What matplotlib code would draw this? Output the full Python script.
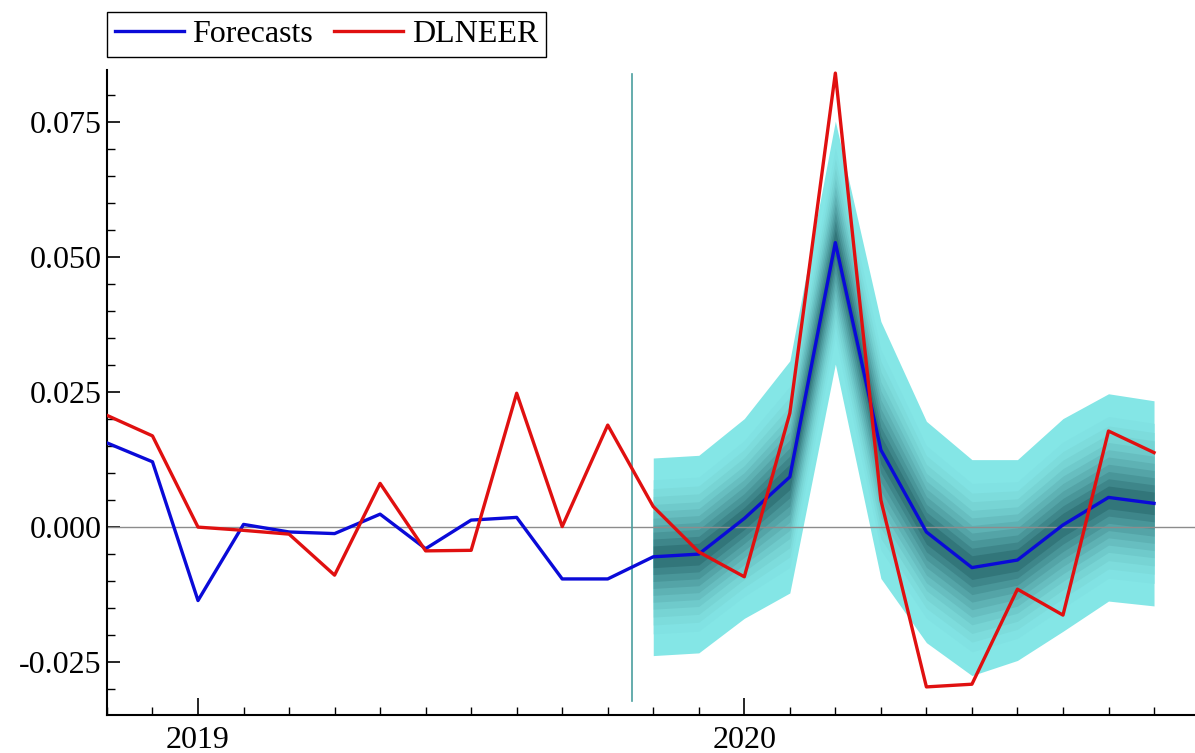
import numpy as np
import matplotlib
matplotlib.use("Agg")
import matplotlib.pyplot as plt
from matplotlib.colors import to_rgb

# Monthly data, Nov 2018 .. Oct 2020 (index 0 = 2018-11)
forecasts = [0.0156, 0.0121, -0.0136, 0.0005, -0.0009, -0.0012, 0.0024, -0.0040,
             0.0013, 0.0018, -0.0096, -0.0096, -0.0055, -0.0050, 0.0016, 0.0093,
             0.0527, 0.0143, -0.0009, -0.0075, -0.0061, 0.0004, 0.0055, 0.0044]
dlneer = [0.0207, 0.0169, 0.0000, -0.0006, -0.0013, -0.0089, 0.0081, -0.0044,
          -0.0043, 0.0248, 0.0001, 0.0189, 0.0038, -0.0046, -0.0092, 0.0211,
          0.0841, 0.0050, -0.0296, -0.0291, -0.0115, -0.0163, 0.0178, 0.0138]
# half-width of the outer forecast band, from the first forecast month on
fan_start = 12
fan_half = [0.0183, 0.0183, 0.0185, 0.0215, 0.0225, 0.0238,
            0.0205, 0.0200, 0.0186, 0.0197, 0.0192, 0.0190]
forecast_origin = 11.53

year_ticks = [2, 14]
year_labels = ["2019", "2020"]
y_ticks = [-0.025, 0.0, 0.025, 0.05, 0.075]
y_labels = ["-0.025", "0.000", "0.025", "0.050", "0.075"]

# fraction of the outer half-width for each fan band, outer to inner
band_levels = [1.0, 0.78, 0.69, 0.61, 0.53, 0.46, 0.39, 0.32, 0.25, 0.18, 0.11]

plt.rcParams["font.family"] = ["Liberation Serif", "DejaVu Serif"]

x = np.arange(len(dlneer))
xf = x[fan_start:]
mid = np.array(forecasts[fan_start:])
half = np.array(fan_half)

fig = plt.figure(figsize=(11.95, 7.53), dpi=100)
ax = fig.add_axes([0.0895, 0.0505, 0.9105, 0.856])

# fan chart bands, light cyan outside to dark teal at the centre
c_out = np.array(to_rgb("#84e6e6"))
c_in = np.array(to_rgb("#32767a"))
for i, lev in enumerate(band_levels):
    t = (i / (len(band_levels) - 1)) ** 1.5
    col = c_out * (1 - t) + c_in * t
    ax.fill_between(xf, mid - lev * half, mid + lev * half, color=col, lw=0, zorder=1)

ax.axhline(0, color="#8c8c8c", lw=1.0, zorder=2)
ax.axvline(forecast_origin, ymin=0.022, ymax=0.995, color="#4a9e9e", lw=1.2, zorder=2)

ax.plot(x, forecasts, color="#0a0ad8", lw=2.4, label="Forecasts", zorder=3)
ax.plot(x, dlneer, color="#e01010", lw=2.4, label="DLNEER", zorder=4)

ax.set_xlim(0, 23.9)
ax.set_ylim(-0.0348, 0.0846)

ax.set_xticks(year_ticks)
ax.set_xticklabels(year_labels)
ax.set_xticks(x, minor=True)
ax.set_yticks(y_ticks)
ax.set_yticklabels(y_labels)
ax.set_yticks(np.arange(-0.03, 0.085, 0.005), minor=True)

ax.tick_params(axis="both", which="both", direction="in", color="black", labelsize=23)
ax.tick_params(axis="x", which="major", length=12, width=1.2, pad=8)
ax.tick_params(axis="x", which="minor", length=6, width=1.0)
ax.tick_params(axis="y", which="major", length=9, width=1.2, pad=4)
ax.tick_params(axis="y", which="minor", length=6, width=1.0)

for side in ("top", "right"):
    ax.spines[side].set_visible(False)
for side in ("left", "bottom"):
    ax.spines[side].set_linewidth(1.5)

leg = fig.legend(loc="upper left", bbox_to_anchor=(0.0895, 0.984), ncol=2,
                 fontsize=23, frameon=True, fancybox=False, framealpha=1,
                 edgecolor="black", borderaxespad=0, handlelength=2.15,
                 handletextpad=0.28, columnspacing=0.65, borderpad=0.25)
leg.get_frame().set_linewidth(1.0)

fig.savefig("out.png", dpi=100)
